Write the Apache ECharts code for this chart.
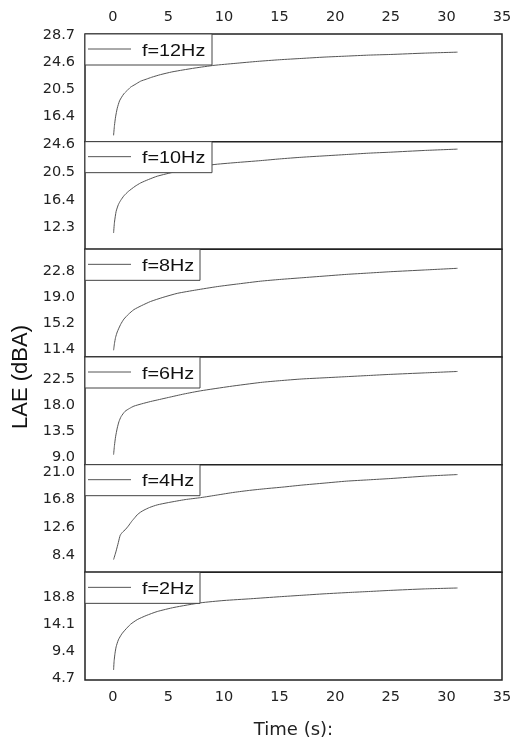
<!DOCTYPE html>
<html><head><meta charset="utf-8">
<script src="https://cdn.jsdelivr.net/npm/echarts@6/dist/echarts.min.js"></script>
<style>html,body{margin:0;padding:0;background:#fff}#c{width:510px;height:743px}</style>
</head><body><div id="c"></div>
<script>
// ---- data ----
const panelNames = ['f=12Hz','f=10Hz','f=8Hz','f=6Hz','f=4Hz','f=2Hz'];
const xTicks = [0,5,10,15,20,25,30,35];

const t12 = [0.07,0.15,0.25,0.4,0.6,0.8,1.0,1.3,1.6,2.0,2.5,3.0,3.5,4.3,5.3,6.3,7.4,9.1,11,13,15,17,19,21,23,25,28,31];
const v12 = [13.5,15.0,16.3,17.6,18.7,19.3,19.8,20.3,20.8,21.2,21.7,22.0,22.3,22.7,23.1,23.4,23.7,24.1,24.4,24.7,24.95,25.15,25.35,25.5,25.65,25.75,25.95,26.1];
const t10 = [0.07,0.15,0.3,0.5,0.7,1.0,1.4,2.0,2.5,3.2,4.0,5.6,7.3,9,11,13.3,15,17,19,21,23,25,28,31];
const v10 = [11.5,13.1,14.7,15.7,16.3,17.0,17.65,18.4,18.9,19.4,19.9,20.55,21.1,21.6,21.9,22.2,22.45,22.7,22.9,23.1,23.3,23.45,23.7,23.9];
const t8 = [0.07,0.15,0.25,0.4,0.7,1.0,1.4,1.9,2.6,3.4,4.5,5.8,7.5,9.4,11.3,13.3,15,17,19,21,23,25,28,31];
const v8 = [11.2,12.2,13.1,13.9,15.0,15.8,16.5,17.2,17.8,18.4,19.0,19.6,20.1,20.6,21.0,21.4,21.65,21.9,22.15,22.4,22.6,22.8,23.05,23.3];
const t6 = [0.07,0.15,0.25,0.4,0.55,0.75,1.1,1.5,1.9,2.6,3.4,4.2,5,6.4,7.9,10.5,13.3,15,17,19,21,23,25,28,31];
const v6 = [9.4,11.0,12.5,14.0,15.1,16.0,16.9,17.4,17.8,18.2,18.6,18.95,19.3,19.9,20.45,21.2,21.9,22.2,22.5,22.7,22.9,23.1,23.3,23.55,23.8];
const t4 = [0.07,0.3,0.5,0.67,0.9,1.1,1.4,1.7,2.0,2.2,2.5,2.8,3.3,4.0,5.0,6.5,7.9,9.4,10.9,12.3,13.7,15.3,17,19,21,23,25,28,31];
const v4 = [7.7,9.0,10.3,11.4,11.9,12.2,12.8,13.5,14.1,14.5,14.9,15.2,15.6,16.0,16.35,16.8,17.1,17.5,17.9,18.2,18.45,18.7,19.0,19.3,19.6,19.8,20.0,20.35,20.6];
const t2 = [0.07,0.12,0.2,0.3,0.5,0.8,1.1,1.6,2.2,3.0,4.0,5.5,7.9,10,12.4,15,17,19,21.4,23,25,28,31];
const v2 = [6.2,7.8,9.1,10.2,11.4,12.4,13.1,14.1,14.9,15.6,16.3,17.0,17.8,18.2,18.5,18.85,19.1,19.35,19.6,19.75,19.95,20.2,20.36];

const yTicks12 = [16.4,20.5,24.6,28.7];
const yTicks10 = [12.3,16.4,20.5,24.6];
const yTicks8 = [11.4,15.2,19.0,22.8];
const yTicks6 = [9.0,13.5,18.0,22.5];
const yTicks4 = [8.4,12.6,16.8,21.0];
const yTicks2 = [4.7,9.4,14.1,18.8];

const yMins = [12.54, 9.09, 10.2, 7.67, 5.76, 4.47];
const yMaxs = [28.85, 25.0, 26.1, 26.3, 22.1, 23.06];

// ---- build ----
const times = [t12,t10,t8,t6,t4,t2];
const vals = [v12,v10,v8,v6,v4,v2];
const yTicks = [yTicks12,yTicks10,yTicks8,yTicks6,yTicks4,yTicks2];

const L = 85, R = 8, TOP = 34, H = 107.67;
const grids = [], xAxes = [], yAxes = [], series = [], graphics = [];
const tickFont = {fontFamily:'DejaVu Sans', fontSize:14.5, color:'#222'};

for (let i = 0; i < 6; i++) {
  const top = TOP + i * H;
  grids.push({left:L, right:R, top:top, height:H, show:true, borderColor:'#222', borderWidth:1.5,
    backgroundColor:'#fff', containLabel:false, outerBoundsMode:'none'});
  const showX = (i === 0 || i === 5);
  xAxes.push({
    type:'value', gridIndex:i, min:-2.5, max:35,
    position: i === 0 ? 'top' : 'bottom',
    axisLine:{show:false}, axisTick:{show:false}, splitLine:{show:false},
    axisLabel: Object.assign({show:showX, margin:i === 0 ? 9 : 10, customValues:xTicks, formatter:v=>String(v)}, tickFont),
    name: i === 5 ? 'Time (s):' : '', nameLocation:'middle', nameGap:41,
    nameTextStyle:{fontFamily:'DejaVu Sans', fontSize:18, color:'#222'}
  });
  yAxes.push({
    type:'value', gridIndex:i, min:yMins[i], max:yMaxs[i],
    axisLine:{show:false}, axisTick:{show:false}, splitLine:{show:false},
    axisLabel: Object.assign({show:true, margin:10, customValues:yTicks[i], formatter:v=>Number(v).toFixed(1)}, tickFont)
  });
  series.push({
    type:'line', name:panelNames[i], xAxisIndex:i, yAxisIndex:i,
    data: times[i].map((t,k)=>[t, vals[i][k]]),
    symbol:'none', smooth:0.2,
    lineStyle:{color:'#555', width:1}
  });
  const w = i < 2 ? 127 : 115;
  graphics.push({type:'rect', z:100, shape:{x:L, y:top, width:w, height:31},
    style:{fill:'#fff', stroke:'#444', lineWidth:1}});
  graphics.push({type:'line', z:101, shape:{x1:L+3, y1:top+15, x2:L+46, y2:top+15},
    style:{stroke:'#555', lineWidth:1}});
  graphics.push({type:'text', z:101, x:L+57, y:top+17, scaleX:1.2,
    style:{text:panelNames[i], fontFamily:'Liberation Sans', fontSize:16.5, fill:'#111', verticalAlign:'middle', align:'left'}});
}
graphics.push({type:'text', z:101, x:21, y:377, rotation:Math.PI/2,
  style:{text:'LAE (dBA)', fontFamily:'Liberation Sans', fontSize:22, fill:'#111', align:'center', verticalAlign:'middle'}});

const chart = echarts.init(document.getElementById('c'), null, {renderer:'canvas'});
chart.setOption({animation:false, backgroundColor:'#fff', grid:grids, xAxis:xAxes, yAxis:yAxes, series:series, graphic:graphics});
</script></body></html>
